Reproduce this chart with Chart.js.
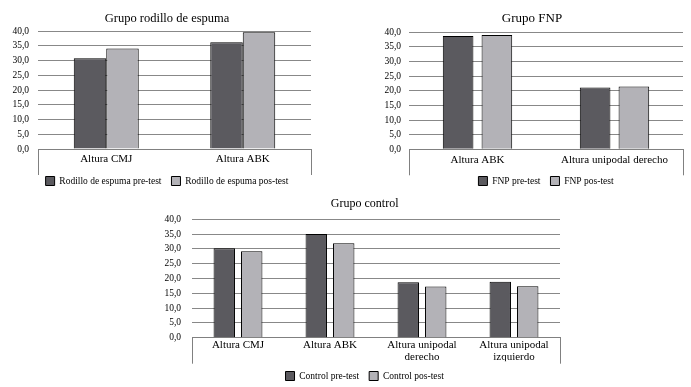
<!DOCTYPE html>
<html>
<head>
<meta charset="utf-8">
<script src="https://cdn.jsdelivr.net/npm/chart.js@4/dist/chart.umd.min.js"></script>
<style>
  html, body { margin: 0; padding: 0; background: #fff; overflow: hidden; }
  #hoja { position: relative; width: 691px; height: 387px; overflow: hidden; }
  canvas { position: absolute; }
</style>
</head>
<body>
<div id="hoja">
  <canvas id="chart_espuma" width="345" height="200" style="left:0;top:0"></canvas>
  <canvas id="chart_fnp" width="346" height="200" style="left:345px;top:0"></canvas>
  <canvas id="chart_control" width="691" height="206" style="left:0;top:188px"></canvas>
</div>
<script>
var yTicks = ['0,0', '5,0', '10,0', '15,0', '20,0', '25,0', '30,0', '35,0', '40,0'];

var espumaCategorias = ['Altura CMJ', 'Altura ABK'];
var espumaPre = [30.8, 36.2];
var espumaPos = [34.1, 39.6];

var fnpCategorias = ['Altura ABK', 'Altura unipodal derecho'];
var fnpPre = [38.7, 21.1];
var fnpPos = [39.1, 21.5];

var controlCategorias = ['Altura CMJ', 'Altura ABK', ['Altura unipodal', 'derecho'], ['Altura unipodal', 'izquierdo']];
var controlPre = [30.2, 35.0, 18.7, 18.9];
var controlPos = [29.2, 31.9, 17.3, 17.4];

var colorPre = '#5b5a5f';
var colorPos = '#b3b2b7';

Chart.defaults.font.family = "'Liberation Serif', 'DejaVu Serif', serif";
Chart.defaults.color = '#000';

// vertical lines under the plot at both ends of the category axis
var bordesCategoria = {
    id: 'bordesCategoria',
    afterDraw: function(chart, args, opts){
        var ctx = chart.ctx, a = chart.chartArea;
        ctx.save();
        ctx.strokeStyle = '#808080';
        ctx.lineWidth = 1;
        ctx.beginPath();
        [a.left, a.right].forEach(function(x){
            var px = Math.round(x) + 0.5;
            ctx.moveTo(px, a.bottom);
            ctx.lineTo(px, a.bottom + opts.largo);
        });
        ctx.stroke();
        ctx.restore();
    }
};

var makeChart = function(id, cfg){
    return new Chart(document.getElementById(id), {
        type: 'bar',
        data: {
            labels: cfg.labels,
            datasets: [
                {
                    label: cfg.nombres[0],
                    data: cfg.pre,
                    backgroundColor: colorPre,
                    borderColor: '#000',
                    borderWidth: 1,
                    categoryPercentage: cfg.catPct,
                    barPercentage: cfg.barPct
                },
                {
                    label: cfg.nombres[1],
                    data: cfg.pos,
                    backgroundColor: colorPos,
                    borderColor: '#000',
                    borderWidth: 1,
                    categoryPercentage: cfg.catPct,
                    barPercentage: cfg.barPct
                }
            ]
        },
        options: {
            responsive: false,
            animation: false,
            devicePixelRatio: 1,
            layout: { padding: cfg.padding },
            plugins: {
                title: {
                    display: true,
                    text: cfg.titulo,
                    font: { size: cfg.tituloSize, weight: 'normal', lineHeight: 1.2 },
                    padding: cfg.tituloPad
                },
                legend: {
                    position: 'bottom',
                    fullSize: cfg.legendFull,
                    labels: {
                        boxWidth: 9,
                        boxHeight: 9,
                        padding: 10,
                        font: { size: 9.5 }
                    }
                },
                tooltip: { enabled: false },
                bordesCategoria: { largo: 26 }
            },
            scales: {
                x: {
                    grid: { display: false, drawTicks: false },
                    border: { display: true, color: '#808080' },
                    ticks: { padding: cfg.xPad, maxRotation: 0, autoSkip: false, font: { size: 11, lineHeight: 1.1 } },
                    afterFit: function(s){ s.height = cfg.xAlto; }
                },
                y: {
                    min: 0,
                    max: 40,
                    grid: { color: '#888', drawTicks: false },
                    border: { display: false },
                    ticks: {
                        stepSize: 5,
                        padding: cfg.yPad,
                        font: { size: 9.5 },
                        callback: function(v, i){ return yTicks[i]; }
                    },
                    afterFit: function(s){ s.width = cfg.yAncho; }
                },
                // empty spacer on the right so the title sits where it does in the original
                margen: {
                    type: 'linear',
                    position: 'right',
                    grid: { display: false, drawTicks: false },
                    border: { display: false },
                    ticks: { display: false },
                    afterFit: function(s){ s.width = cfg.margenDer; }
                }
            }
        },
        plugins: [bordesCategoria]
    });
};

makeChart('chart_espuma', {
    labels: espumaCategorias,
    pre: espumaPre,
    pos: espumaPos,
    nombres: ['Rodillo de espuma pre-test', 'Rodillo de espuma pos-test'],
    titulo: 'Grupo rodillo de espuma',
    tituloSize: 12.5,
    tituloPad: { top: 11.5, bottom: 4.5 },
    padding: { left: 10, right: 21, top: 0, bottom: 4.25 },
    legendFull: true,
    catPct: 0.476,
    barPct: 1.0,
    xPad: 4.5,
    xAlto: 17.25,
    yPad: 9,
    yAncho: 28,
    margenDer: 13
});

makeChart('chart_fnp', {
    labels: fnpCategorias,
    pre: fnpPre,
    pos: fnpPos,
    nombres: ['FNP pre-test', 'FNP pos-test'],
    titulo: 'Grupo FNP',
    tituloSize: 13,
    tituloPad: { top: 11.2, bottom: 5.5 },
    padding: { left: 36, right: 8, top: 0, bottom: 4.25 },
    legendFull: false,
    catPct: 0.566,
    barPct: 0.79,
    xPad: 4.5,
    xAlto: 16.95,
    yPad: 8,
    yAncho: 28,
    margenDer: 0
});

makeChart('chart_control', {
    labels: controlCategorias,
    pre: controlPre,
    pos: controlPos,
    nombres: ['Control pre-test', 'Control pos-test'],
    titulo: 'Grupo control',
    tituloSize: 12,
    tituloPad: { top: 8.8, bottom: 8.1 },
    padding: { left: 162, right: 123.6, top: 0, bottom: 3.25 },
    legendFull: true,
    catPct: 0.597,
    barPct: 0.78,
    xPad: 1,
    xAlto: 23.55,
    yPad: 11,
    yAncho: 30,
    margenDer: 7.4
});
</script>
</body>
</html>
